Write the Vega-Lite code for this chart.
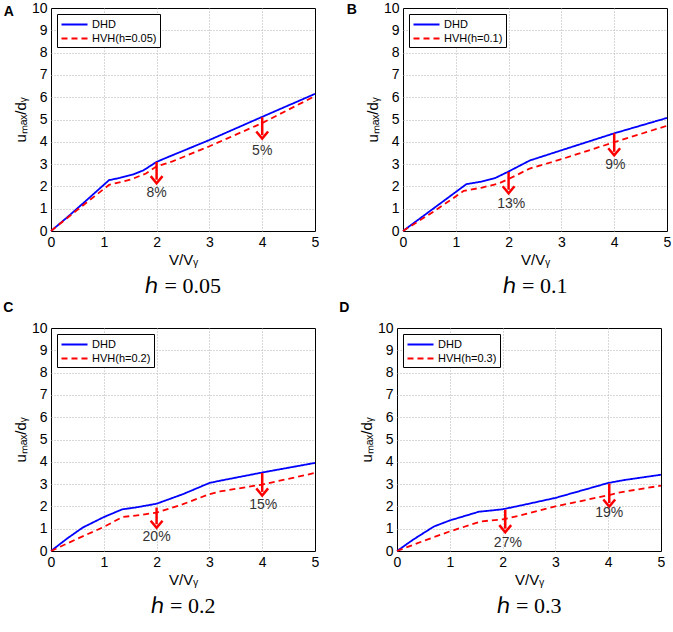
{
  "$schema": "https://vega.github.io/schema/vega-lite/v6.json",
  "padding": {"left": 2, "top": 0, "right": 2, "bottom": 2},
  "datasets": {
    "lines": [
      {"panel": "A", "series": "DHD", "x": 0, "y": 0},
      {"panel": "A", "series": "DHD", "x": 0.3, "y": 0.6},
      {"panel": "A", "series": "DHD", "x": 0.65, "y": 1.33},
      {"panel": "A", "series": "DHD", "x": 1.1, "y": 2.28},
      {"panel": "A", "series": "DHD", "x": 1.3, "y": 2.38},
      {"panel": "A", "series": "DHD", "x": 1.55, "y": 2.53},
      {"panel": "A", "series": "DHD", "x": 1.75, "y": 2.72},
      {"panel": "A", "series": "DHD", "x": 2.0, "y": 3.1},
      {"panel": "A", "series": "DHD", "x": 2.2, "y": 3.3},
      {"panel": "A", "series": "DHD", "x": 3.0, "y": 4.08},
      {"panel": "A", "series": "DHD", "x": 4.0, "y": 5.12},
      {"panel": "A", "series": "DHD", "x": 5.0, "y": 6.15},
      {"panel": "A", "series": "HVH(h=0.05)", "x": 0, "y": 0},
      {"panel": "A", "series": "HVH(h=0.05)", "x": 0.5, "y": 0.95},
      {"panel": "A", "series": "HVH(h=0.05)", "x": 1.1, "y": 2.07},
      {"panel": "A", "series": "HVH(h=0.05)", "x": 1.5, "y": 2.3},
      {"panel": "A", "series": "HVH(h=0.05)", "x": 1.8, "y": 2.58},
      {"panel": "A", "series": "HVH(h=0.05)", "x": 2.0, "y": 2.9},
      {"panel": "A", "series": "HVH(h=0.05)", "x": 2.3, "y": 3.12},
      {"panel": "A", "series": "HVH(h=0.05)", "x": 3.0, "y": 3.8},
      {"panel": "A", "series": "HVH(h=0.05)", "x": 4.0, "y": 4.84},
      {"panel": "A", "series": "HVH(h=0.05)", "x": 5.0, "y": 6.05},
      {"panel": "B", "series": "DHD", "x": 0, "y": 0},
      {"panel": "B", "series": "DHD", "x": 0.6, "y": 1.05},
      {"panel": "B", "series": "DHD", "x": 1.2, "y": 2.1},
      {"panel": "B", "series": "DHD", "x": 1.5, "y": 2.22},
      {"panel": "B", "series": "DHD", "x": 1.75, "y": 2.38},
      {"panel": "B", "series": "DHD", "x": 2.0, "y": 2.67},
      {"panel": "B", "series": "DHD", "x": 2.4, "y": 3.16},
      {"panel": "B", "series": "DHD", "x": 3.0, "y": 3.62},
      {"panel": "B", "series": "DHD", "x": 4.0, "y": 4.38},
      {"panel": "B", "series": "DHD", "x": 5.0, "y": 5.07},
      {"panel": "B", "series": "HVH(h=0.1)", "x": 0, "y": 0},
      {"panel": "B", "series": "HVH(h=0.1)", "x": 0.6, "y": 0.9},
      {"panel": "B", "series": "HVH(h=0.1)", "x": 1.15, "y": 1.8},
      {"panel": "B", "series": "HVH(h=0.1)", "x": 1.5, "y": 1.95},
      {"panel": "B", "series": "HVH(h=0.1)", "x": 1.8, "y": 2.12},
      {"panel": "B", "series": "HVH(h=0.1)", "x": 2.0, "y": 2.33},
      {"panel": "B", "series": "HVH(h=0.1)", "x": 2.4, "y": 2.8},
      {"panel": "B", "series": "HVH(h=0.1)", "x": 3.0, "y": 3.22},
      {"panel": "B", "series": "HVH(h=0.1)", "x": 4.0, "y": 3.98},
      {"panel": "B", "series": "HVH(h=0.1)", "x": 5.0, "y": 4.72},
      {"panel": "C", "series": "DHD", "x": 0, "y": 0},
      {"panel": "C", "series": "DHD", "x": 0.3, "y": 0.55},
      {"panel": "C", "series": "DHD", "x": 0.6, "y": 1.05},
      {"panel": "C", "series": "DHD", "x": 1.0, "y": 1.52},
      {"panel": "C", "series": "DHD", "x": 1.35, "y": 1.87},
      {"panel": "C", "series": "DHD", "x": 1.6, "y": 1.95},
      {"panel": "C", "series": "DHD", "x": 2.0, "y": 2.12},
      {"panel": "C", "series": "DHD", "x": 2.5, "y": 2.55},
      {"panel": "C", "series": "DHD", "x": 3.0, "y": 3.05},
      {"panel": "C", "series": "DHD", "x": 3.2, "y": 3.15},
      {"panel": "C", "series": "DHD", "x": 4.0, "y": 3.52},
      {"panel": "C", "series": "DHD", "x": 5.0, "y": 3.95},
      {"panel": "C", "series": "HVH(h=0.2)", "x": 0, "y": 0},
      {"panel": "C", "series": "HVH(h=0.2)", "x": 0.5, "y": 0.55},
      {"panel": "C", "series": "HVH(h=0.2)", "x": 1.0, "y": 1.08},
      {"panel": "C", "series": "HVH(h=0.2)", "x": 1.35, "y": 1.52},
      {"panel": "C", "series": "HVH(h=0.2)", "x": 1.7, "y": 1.62},
      {"panel": "C", "series": "HVH(h=0.2)", "x": 2.0, "y": 1.72},
      {"panel": "C", "series": "HVH(h=0.2)", "x": 2.5, "y": 2.1},
      {"panel": "C", "series": "HVH(h=0.2)", "x": 3.0, "y": 2.55},
      {"panel": "C", "series": "HVH(h=0.2)", "x": 3.2, "y": 2.67},
      {"panel": "C", "series": "HVH(h=0.2)", "x": 4.0, "y": 2.98},
      {"panel": "C", "series": "HVH(h=0.2)", "x": 5.0, "y": 3.5},
      {"panel": "D", "series": "DHD", "x": 0, "y": 0},
      {"panel": "D", "series": "DHD", "x": 0.3, "y": 0.5},
      {"panel": "D", "series": "DHD", "x": 0.7, "y": 1.1},
      {"panel": "D", "series": "DHD", "x": 1.0, "y": 1.37},
      {"panel": "D", "series": "DHD", "x": 1.55, "y": 1.76},
      {"panel": "D", "series": "DHD", "x": 2.0, "y": 1.87},
      {"panel": "D", "series": "DHD", "x": 2.4, "y": 2.07},
      {"panel": "D", "series": "DHD", "x": 3.0, "y": 2.38},
      {"panel": "D", "series": "DHD", "x": 4.0, "y": 3.05},
      {"panel": "D", "series": "DHD", "x": 4.3, "y": 3.18},
      {"panel": "D", "series": "DHD", "x": 5.0, "y": 3.42},
      {"panel": "D", "series": "HVH(h=0.3)", "x": 0, "y": 0},
      {"panel": "D", "series": "HVH(h=0.3)", "x": 0.5, "y": 0.45},
      {"panel": "D", "series": "HVH(h=0.3)", "x": 1.0, "y": 0.88},
      {"panel": "D", "series": "HVH(h=0.3)", "x": 1.6, "y": 1.33},
      {"panel": "D", "series": "HVH(h=0.3)", "x": 2.0, "y": 1.42},
      {"panel": "D", "series": "HVH(h=0.3)", "x": 2.1, "y": 1.46},
      {"panel": "D", "series": "HVH(h=0.3)", "x": 3.0, "y": 2.0},
      {"panel": "D", "series": "HVH(h=0.3)", "x": 4.0, "y": 2.5},
      {"panel": "D", "series": "HVH(h=0.3)", "x": 4.2, "y": 2.62},
      {"panel": "D", "series": "HVH(h=0.3)", "x": 5.0, "y": 2.93}
    ],
    "arrows": [
      {"panel": "A", "x": 2.0, "y1": 3.1, "y2": 2.3},
      {"panel": "A", "x": 4.0, "y1": 5.1, "y2": 4.3},
      {"panel": "B", "x": 2.0, "y1": 2.65, "y2": 1.85},
      {"panel": "B", "x": 4.0, "y1": 4.38, "y2": 3.55},
      {"panel": "C", "x": 2.0, "y1": 1.95, "y2": 1.2},
      {"panel": "C", "x": 4.0, "y1": 3.5, "y2": 2.65},
      {"panel": "D", "x": 2.05, "y1": 1.85, "y2": 1.0},
      {"panel": "D", "x": 4.02, "y1": 3.02, "y2": 2.15}
    ],
    "labels": [
      {"panel": "A", "x": 2.0, "y": 1.72, "t": "8%"},
      {"panel": "A", "x": 4.0, "y": 3.6, "t": "5%"},
      {"panel": "B", "x": 2.05, "y": 1.2, "t": "13%"},
      {"panel": "B", "x": 4.02, "y": 2.95, "t": "9%"},
      {"panel": "C", "x": 2.0, "y": 0.65, "t": "20%"},
      {"panel": "C", "x": 4.02, "y": 2.05, "t": "15%"},
      {"panel": "D", "x": 2.1, "y": 0.35, "t": "27%"},
      {"panel": "D", "x": 4.02, "y": 1.7, "t": "19%"}
    ],
    "letters": [
      {"panel": "A", "x": -0.8, "y": 9.8, "t": "A"},
      {"panel": "B", "x": -0.97, "y": 9.9, "t": "B"},
      {"panel": "C", "x": -0.81, "y": 10.9, "t": "C"},
      {"panel": "D", "x": -1.0, "y": 10.9, "t": "D"}
    ]
  },
  "vconcat": [
    {
      "hconcat": [
        {
          "width": 264, "height": 223,
          "title": {"text": "ℎ = 0.05", "orient": "bottom"},
          "layer": [
            {"data": {"name": "lines"}, "transform": [{"filter": "datum.panel == 'A'"}],
             "mark": {"type": "line", "strokeWidth": 1.8},
             "encoding": {
               "x": {"field": "x", "type": "quantitative", "scale": {"domain": [0, 5]}, "axis": {"title": "V/Vᵧ", "values": [0, 1, 2, 3, 4, 5]}},
               "y": {"field": "y", "type": "quantitative", "scale": {"domain": [0, 10]}, "axis": {"title": "uₘₐₓ/dᵧ", "values": [0, 1, 2, 3, 4, 5, 6, 7, 8, 9, 10]}},
               "color": {"field": "series", "type": "nominal", "scale": {"range": ["#0000ff", "#ff0000"]}, "legend": {"title": null}},
               "strokeDash": {"field": "series", "type": "nominal", "scale": {"range": [[1, 0], [6, 4]]}, "legend": {"title": null}}
             }},
            {"data": {"name": "arrows"}, "transform": [{"filter": "datum.panel == 'A'"}],
             "mark": {"type": "rule", "color": "#ff0000", "strokeWidth": 2.5},
             "encoding": {"x": {"field": "x", "type": "quantitative"}, "y": {"field": "y1", "type": "quantitative"}, "y2": {"field": "y2"}}},
            {"data": {"name": "arrows"}, "transform": [{"filter": "datum.panel == 'A'"}],
             "mark": {"type": "point", "shape": "M-1,-0.6L0,0.6L1,-0.6", "filled": false, "stroke": "#ff0000", "strokeWidth": 2.5, "size": 140, "opacity": 1},
             "encoding": {"x": {"field": "x", "type": "quantitative"}, "y": {"field": "y2", "type": "quantitative"}}},
            {"data": {"name": "labels"}, "transform": [{"filter": "datum.panel == 'A'"}],
             "mark": {"type": "text", "fontSize": 14, "font": "Liberation Sans", "color": "#333333"},
             "encoding": {"x": {"field": "x", "type": "quantitative"}, "y": {"field": "y", "type": "quantitative"}, "text": {"field": "t"}}},
            {"data": {"name": "letters"}, "transform": [{"filter": "datum.panel == 'A'"}],
             "mark": {"type": "text", "fontSize": 14, "fontWeight": "bold", "font": "Liberation Sans", "color": "black"},
             "encoding": {"x": {"field": "x", "type": "quantitative"}, "y": {"field": "y", "type": "quantitative"}, "text": {"field": "t"}}}
          ]
        },
        {
          "width": 264, "height": 223,
          "title": {"text": "ℎ = 0.1", "orient": "bottom"},
          "layer": [
            {"data": {"name": "lines"}, "transform": [{"filter": "datum.panel == 'B'"}],
             "mark": {"type": "line", "strokeWidth": 1.8},
             "encoding": {
               "x": {"field": "x", "type": "quantitative", "scale": {"domain": [0, 5]}, "axis": {"title": "V/Vᵧ", "values": [0, 1, 2, 3, 4, 5]}},
               "y": {"field": "y", "type": "quantitative", "scale": {"domain": [0, 10]}, "axis": {"title": "uₘₐₓ/dᵧ", "values": [0, 1, 2, 3, 4, 5, 6, 7, 8, 9, 10]}},
               "color": {"field": "series", "type": "nominal", "scale": {"range": ["#0000ff", "#ff0000"]}, "legend": {"title": null}},
               "strokeDash": {"field": "series", "type": "nominal", "scale": {"range": [[1, 0], [6, 4]]}, "legend": {"title": null}}
             }},
            {"data": {"name": "arrows"}, "transform": [{"filter": "datum.panel == 'B'"}],
             "mark": {"type": "rule", "color": "#ff0000", "strokeWidth": 2.5},
             "encoding": {"x": {"field": "x", "type": "quantitative"}, "y": {"field": "y1", "type": "quantitative"}, "y2": {"field": "y2"}}},
            {"data": {"name": "arrows"}, "transform": [{"filter": "datum.panel == 'B'"}],
             "mark": {"type": "point", "shape": "M-1,-0.6L0,0.6L1,-0.6", "filled": false, "stroke": "#ff0000", "strokeWidth": 2.5, "size": 140, "opacity": 1},
             "encoding": {"x": {"field": "x", "type": "quantitative"}, "y": {"field": "y2", "type": "quantitative"}}},
            {"data": {"name": "labels"}, "transform": [{"filter": "datum.panel == 'B'"}],
             "mark": {"type": "text", "fontSize": 14, "font": "Liberation Sans", "color": "#333333"},
             "encoding": {"x": {"field": "x", "type": "quantitative"}, "y": {"field": "y", "type": "quantitative"}, "text": {"field": "t"}}},
            {"data": {"name": "letters"}, "transform": [{"filter": "datum.panel == 'B'"}],
             "mark": {"type": "text", "fontSize": 14, "fontWeight": "bold", "font": "Liberation Sans", "color": "black"},
             "encoding": {"x": {"field": "x", "type": "quantitative"}, "y": {"field": "y", "type": "quantitative"}, "text": {"field": "t"}}}
          ]
        }
      ],
      "spacing": 26,
      "resolve": {"scale": {"x": "independent", "y": "independent", "color": "independent", "strokeDash": "independent"}, "legend": {"color": "independent", "strokeDash": "independent"}}
    },
    {
      "hconcat": [
        {
          "width": 264, "height": 223,
          "title": {"text": "ℎ = 0.2", "orient": "bottom"},
          "layer": [
            {"data": {"name": "lines"}, "transform": [{"filter": "datum.panel == 'C'"}],
             "mark": {"type": "line", "strokeWidth": 1.8},
             "encoding": {
               "x": {"field": "x", "type": "quantitative", "scale": {"domain": [0, 5]}, "axis": {"title": "V/Vᵧ", "values": [0, 1, 2, 3, 4, 5]}},
               "y": {"field": "y", "type": "quantitative", "scale": {"domain": [0, 10]}, "axis": {"title": "uₘₐₓ/dᵧ", "values": [0, 1, 2, 3, 4, 5, 6, 7, 8, 9, 10]}},
               "color": {"field": "series", "type": "nominal", "scale": {"range": ["#0000ff", "#ff0000"]}, "legend": {"title": null}},
               "strokeDash": {"field": "series", "type": "nominal", "scale": {"range": [[1, 0], [6, 4]]}, "legend": {"title": null}}
             }},
            {"data": {"name": "arrows"}, "transform": [{"filter": "datum.panel == 'C'"}],
             "mark": {"type": "rule", "color": "#ff0000", "strokeWidth": 2.5},
             "encoding": {"x": {"field": "x", "type": "quantitative"}, "y": {"field": "y1", "type": "quantitative"}, "y2": {"field": "y2"}}},
            {"data": {"name": "arrows"}, "transform": [{"filter": "datum.panel == 'C'"}],
             "mark": {"type": "point", "shape": "M-1,-0.6L0,0.6L1,-0.6", "filled": false, "stroke": "#ff0000", "strokeWidth": 2.5, "size": 140, "opacity": 1},
             "encoding": {"x": {"field": "x", "type": "quantitative"}, "y": {"field": "y2", "type": "quantitative"}}},
            {"data": {"name": "labels"}, "transform": [{"filter": "datum.panel == 'C'"}],
             "mark": {"type": "text", "fontSize": 14, "font": "Liberation Sans", "color": "#333333"},
             "encoding": {"x": {"field": "x", "type": "quantitative"}, "y": {"field": "y", "type": "quantitative"}, "text": {"field": "t"}}},
            {"data": {"name": "letters"}, "transform": [{"filter": "datum.panel == 'C'"}],
             "mark": {"type": "text", "fontSize": 14, "fontWeight": "bold", "font": "Liberation Sans", "color": "black"},
             "encoding": {"x": {"field": "x", "type": "quantitative"}, "y": {"field": "y", "type": "quantitative"}, "text": {"field": "t"}}}
          ]
        },
        {
          "width": 264, "height": 223,
          "title": {"text": "ℎ = 0.3", "orient": "bottom"},
          "layer": [
            {"data": {"name": "lines"}, "transform": [{"filter": "datum.panel == 'D'"}],
             "mark": {"type": "line", "strokeWidth": 1.8},
             "encoding": {
               "x": {"field": "x", "type": "quantitative", "scale": {"domain": [0, 5]}, "axis": {"title": "V/Vᵧ", "values": [0, 1, 2, 3, 4, 5]}},
               "y": {"field": "y", "type": "quantitative", "scale": {"domain": [0, 10]}, "axis": {"title": "uₘₐₓ/dᵧ", "values": [0, 1, 2, 3, 4, 5, 6, 7, 8, 9, 10]}},
               "color": {"field": "series", "type": "nominal", "scale": {"range": ["#0000ff", "#ff0000"]}, "legend": {"title": null}},
               "strokeDash": {"field": "series", "type": "nominal", "scale": {"range": [[1, 0], [6, 4]]}, "legend": {"title": null}}
             }},
            {"data": {"name": "arrows"}, "transform": [{"filter": "datum.panel == 'D'"}],
             "mark": {"type": "rule", "color": "#ff0000", "strokeWidth": 2.5},
             "encoding": {"x": {"field": "x", "type": "quantitative"}, "y": {"field": "y1", "type": "quantitative"}, "y2": {"field": "y2"}}},
            {"data": {"name": "arrows"}, "transform": [{"filter": "datum.panel == 'D'"}],
             "mark": {"type": "point", "shape": "M-1,-0.6L0,0.6L1,-0.6", "filled": false, "stroke": "#ff0000", "strokeWidth": 2.5, "size": 140, "opacity": 1},
             "encoding": {"x": {"field": "x", "type": "quantitative"}, "y": {"field": "y2", "type": "quantitative"}}},
            {"data": {"name": "labels"}, "transform": [{"filter": "datum.panel == 'D'"}],
             "mark": {"type": "text", "fontSize": 14, "font": "Liberation Sans", "color": "#333333"},
             "encoding": {"x": {"field": "x", "type": "quantitative"}, "y": {"field": "y", "type": "quantitative"}, "text": {"field": "t"}}},
            {"data": {"name": "letters"}, "transform": [{"filter": "datum.panel == 'D'"}],
             "mark": {"type": "text", "fontSize": 14, "fontWeight": "bold", "font": "Liberation Sans", "color": "black"},
             "encoding": {"x": {"field": "x", "type": "quantitative"}, "y": {"field": "y", "type": "quantitative"}, "text": {"field": "t"}}}
          ]
        }
      ],
      "spacing": 18,
      "resolve": {"scale": {"x": "independent", "y": "independent", "color": "independent", "strokeDash": "independent"}, "legend": {"color": "independent", "strokeDash": "independent"}}
    }
  ],
  "spacing": 2,
  "resolve": {"scale": {"x": "independent", "y": "independent", "color": "independent", "strokeDash": "independent"}, "legend": {"color": "independent", "strokeDash": "independent"}},
  "config": {
    "view": {"stroke": "black", "strokeWidth": 1},
    "axis": {
      "labelFont": "Liberation Sans", "labelFontSize": 14, "labelColor": "black", "labelPadding": 4, "labelOverlap": false, "format": "d",
      "titleFont": "Liberation Sans", "titleFontSize": 15, "titleFontWeight": "normal", "titleColor": "black", "titlePadding": 3,
      "grid": true, "gridDash": [1, 2], "gridColor": "#b0b0b0",
      "domain": false, "ticks": false
    },
    "axisY": {"labelFlush": false, "tickCount": 20, "gridOpacity": {"condition": {"test": "datum.value == 0 || datum.value == 10", "value": 0}, "value": 1}},
    "axisX": {"labelFlush": false, "tickCount": 20, "gridOpacity": {"condition": {"test": "datum.value == 0 || datum.value == 5", "value": 0}, "value": 1}},
    "title": {"font": "Liberation Serif", "fontSize": 22, "fontWeight": "normal", "color": "black", "offset": 9},
    "legend": {
      "orient": "top-left", "offset": 6, "strokeColor": "black", "fillColor": "white", "padding": 3,
      "labelFont": "Liberation Sans", "labelFontSize": 11, "labelColor": "black", "labelOffset": 10,
      "symbolType": "M-2,0H2", "symbolSize": 169, "symbolOffset": 7, "symbolStrokeWidth": 1.8, "rowPadding": 1, "cornerRadius": 0
    }
  }
}
